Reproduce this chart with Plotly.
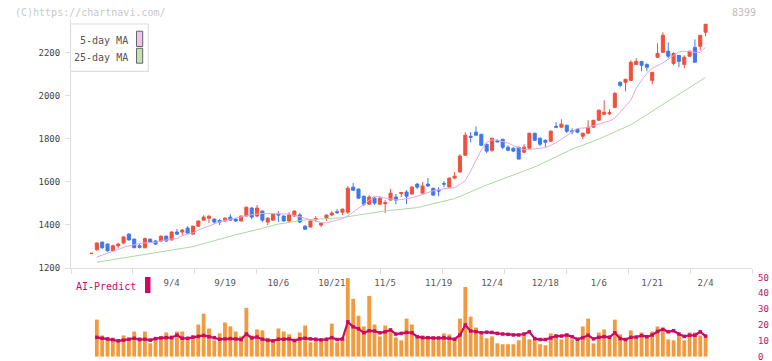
import plotly.graph_objects as go

# ---------------- data ----------------
candle_idx = list(range(116))
open_ = [1267,1285,1320,1311,1280,1303,1316,1357,1334,1303,
 1294,1334,1325,1325,1348,1330,1367,1367,1385,1357,
 1394,1422,1431,1427,1420,1418,1436,1427,1418,1441,
 1478,1441,1464,1413,1422,1450,1441,1418,1441,1446,
 1394,1390,1425,1399,1431,1446,1461,1459,1459,1575,
 1566,1533,1496,1524,1496,1498,1515,1529,1545,1552,
 1543,1589,1547,1589,1570,1561,1592,1575,1617,1645,
 1723,1811,1830,1820,1774,1746,1790,1797,1760,1755,
 1760,1737,1755,1825,1802,1792,1788,1857,1853,1862,
 1836,1843,1811,1825,1853,1885,1913,1915,1945,2061,
 2061,2070,2144,2158,2144,2070,2177,2200,2205,2149,
 2186,2144,2182,2223,2228,2293]
high = [1269,1318,1322,1313,1308,1317,1346,1362,1336,1311,
 1341,1336,1330,1352,1350,1369,1381,1381,1394,1396,
 1420,1445,1445,1429,1427,1436,1450,1431,1443,1484,
 1482,1492,1466,1436,1452,1464,1443,1459,1466,1455,
 1399,1420,1441,1408,1446,1464,1473,1475,1580,1594,
 1568,1535,1538,1529,1533,1515,1566,1543,1552,1561,
 1580,1594,1598,1617,1572,1575,1603,1619,1645,1728,
 1830,1830,1857,1822,1776,1802,1797,1799,1769,1760,
 1762,1774,1827,1827,1804,1797,1839,1876,1890,1864,
 1848,1848,1827,1885,1887,1934,1978,1936,2015,2066,
 2077,2163,2172,2160,2149,2109,2242,2293,2246,2200,
 2188,2186,2207,2260,2279,2332]
low = [1266,1280,1288,1275,1277,1291,1311,1328,1292,1290,
 1292,1316,1306,1320,1320,1328,1353,1348,1357,1355,
 1392,1420,1408,1404,1399,1416,1420,1413,1416,1439,
 1427,1436,1413,1399,1420,1413,1416,1413,1439,1408,
 1376,1388,1413,1390,1418,1441,1450,1445,1450,1557,
 1522,1487,1494,1492,1492,1455,1513,1496,1529,1496,
 1541,1566,1545,1578,1536,1533,1575,1573,1612,1643,
 1721,1783,1814,1767,1732,1737,1783,1751,1742,1737,
 1705,1732,1753,1788,1765,1760,1786,1848,1851,1825,
 1820,1825,1797,1822,1851,1883,1909,1909,1941,2038,
 2019,2068,2142,2112,2112,2052,2175,2198,2172,2140,
 2131,2126,2180,2154,2209,2274]
close = [1268,1316,1294,1280,1303,1311,1344,1330,1294,1296,
 1336,1320,1311,1347,1325,1367,1357,1376,1362,1394,
 1418,1436,1440,1413,1413,1431,1422,1418,1441,1482,
 1436,1478,1422,1431,1450,1446,1418,1446,1464,1413,
 1380,1418,1429,1408,1446,1455,1457,1473,1570,1561,
 1524,1496,1529,1501,1524,1503,1547,1515,1550,1533,
 1575,1575,1580,1580,1538,1557,1589,1617,1626,1719,
 1816,1806,1816,1769,1742,1802,1785,1760,1746,1742,
 1705,1760,1825,1792,1774,1783,1834,1853,1867,1834,
 1832,1830,1825,1853,1885,1932,1922,1920,2010,2047,
 2075,2154,2158,2140,2131,2107,2195,2279,2182,2195,
 2158,2177,2205,2154,2279,2330]

ma5 = [None,
 1251,1259,1267,1276,1286,1296,1303,1310,1314,1316,
 1318,1319,1325,1331,1334,1337,1350,1357,1362,1376,
 1386,1395,1403,1414,1421,1427,1431,1436,1442,1447,
 1451,1453,1453,1453,1453,1452,1450,1444,1438,1432,
 1426,1418,1411,1409,1415,1422,1429,1441,1458,1476,
 1495,1514,1533,1529,1524,1519,1516,1517,1520,1526,
 1533,1542,1550,1558,1562,1568,1570,1572,1588,1605,
 1650,1702,1747,1783,1794,1793,1787,1779,1768,1757,
 1749,1750,1752,1754,1758,1769,1781,1797,1816,1832,
 1847,1850,1851,1860,1868,1875,1882,1895,1925,1950,
 1978,2033,2070,2102,2126,2139,2151,2168,2185,2202,
 2205,2205,2200,2200,2223]
ma25 = [None,
 1227,1231,1235,1239,1243,1247,1251,1254,1258,1261,
 1265,1268,1272,1276,1281,1285,1290,1294,1299,1306,
 1313,1321,1328,1336,1343,1349,1354,1360,1365,1371,
 1378,1384,1391,1398,1404,1407,1412,1416,1420,1423,
 1424,1425,1427,1428,1430,1431,1433,1438,1442,1447,
 1451,1456,1460,1463,1465,1467,1469,1472,1474,1476,
 1480,1486,1492,1498,1504,1510,1516,1522,1532,1543,
 1553,1563,1575,1585,1594,1603,1613,1622,1632,1641,
 1650,1660,1669,1680,1692,1703,1715,1727,1739,1751,
 1760,1769,1779,1789,1798,1809,1820,1831,1842,1853,
 1864,1880,1896,1912,1928,1944,1959,1974,1990,2006,
 2021,2037,2053,2069,2084]

bar_idx = list(range(1, 116))
bar_vals = [23.4, 13.4, 12.2, 10.9, 9.7, 13.4, 10.9, 15.9, 12.2, 15.9,
 8.4, 12.2, 12.8, 15.3, 13.4, 15.9, 15.9, 10.9, 12.8, 20.3,
 27.2, 17.8, 10.3, 14.7, 21.6, 19.2, 15.9, 12.8, 30.9, 13.4,
 17.2, 16.6, 11.6, 10.3, 17.8, 15.9, 14.1, 10.3, 15.3, 19.7,
 9.1, 10.9, 10.3, 10.9, 20.9, 9.1, 10.9, 49.7, 36.6, 25.9,
 19.1, 38.4, 20.3, 12.8,
 19.7, 17.2, 12.2, 10.3, 24.1, 20.3, 12.2, 13.4, 12.2, 12.2,
 10.9, 14.7, 14.1, 10.9, 24.1, 44.1, 25.3, 18.4, 14.1, 11.6,
 12.8, 8.4, 7.8, 7.8, 7.8, 10.3, 13.4, 10.9, 10.9, 7.8,
 7.2, 14.7, 14.1, 10.9, 14.1, 10.9, 10.9, 19.1, 24.1, 8.4,
 15.3, 17.2, 13.4, 23.4, 14.1, 10.9, 16.6, 12.2, 15.3, 13.4,
 15.9, 19.1, 16.6, 10.9, 10.3, 13.4, 10.3, 15.3, 15.3, 13.4,
 13.4]
ai_vals = [12.2, 11.6, 11.2, 10.8, 10.0, 10.4, 11.0, 11.6, 10.8, 11.0,
 10.4, 11.4, 11.8, 12.0, 12.0, 13.6, 11.6, 11.6, 12.4, 12.8,
 13.4, 12.6, 12.0, 11.0, 11.2, 11.4, 11.2, 10.8, 14.3, 11.8,
 12.4, 11.0, 10.4, 10.0, 11.0, 11.0, 11.2, 10.2, 11.2, 11.6,
 11.2, 11.0, 10.6, 11.0, 12.0, 10.8, 11.2, 22.0, 18.9, 17.6,
 15.1, 16.4, 16.2, 15.1,
 15.7, 16.9, 14.3, 14.7, 15.3, 15.1, 12.6, 12.0, 12.0, 11.8,
 11.8, 12.0, 11.6, 11.0, 13.7, 20.0, 16.2, 15.8, 15.1, 15.5,
 15.3, 14.7, 14.3, 14.1, 13.7, 13.7, 14.3, 15.7, 11.4, 10.8,
 10.8, 11.8, 13.0, 13.0, 13.7, 12.6, 11.0, 12.0, 13.5, 11.2,
 12.2, 12.6, 12.2, 15.1, 11.4, 10.8, 12.2, 12.4, 13.3, 12.6,
 13.7, 15.9, 17.3, 15.7, 16.4, 14.3, 12.8, 13.5, 13.5, 15.7,
 13.0]

date_idx = [15, 25, 35, 45, 55, 65, 75, 85, 95, 105, 115]
date_labels = ["9/4", "9/19", "10/6", "10/21", "11/5", "11/19",
               "12/4", "12/18", "1/6", "1/21", "2/4"]
price_ticks = [1200, 1400, 1600, 1800, 2000, 2200]
ai_ticks = [0, 10, 20, 30, 40, 50]

# ---------------- style ----------------
RED = "#f0503c"
BLUE = "#3f78ee"
ORANGE = "#f39a3e"
MAGENTA = "#cc0a66"
PINK = "#e4a8e4"
GREEN = "#abd8a0"
AXIS = "#dedede"
FONT = "DejaVu Sans Mono"

W, H = 772, 361
ML, MR, MT, MB = 71, 20, 20, 3
PW, PH = W - ML - MR, H - MT - MB


def px_x(x):
    return (x - ML) / PW


def px_y(y):
    return (H - MB - y) / PH


fig = go.Figure()

fig.add_trace(go.Scatter(x=candle_idx, y=ma25, mode="lines",
                         line=dict(color=GREEN, width=1), xaxis="x", yaxis="y",
                         hoverinfo="skip"))
fig.add_trace(go.Scatter(x=candle_idx, y=ma5, mode="lines",
                         line=dict(color=PINK, width=1), xaxis="x", yaxis="y",
                         hoverinfo="skip"))
fig.add_trace(go.Candlestick(
    x=candle_idx, open=open_, high=high, low=low, close=close,
    increasing=dict(line=dict(color=RED, width=1), fillcolor=RED),
    decreasing=dict(line=dict(color=BLUE, width=1), fillcolor=BLUE),
    whiskerwidth=0, xaxis="x", yaxis="y"))

fig.add_trace(go.Bar(x=bar_idx, y=bar_vals, marker=dict(color=ORANGE, line=dict(width=0)),
                     width=0.72, xaxis="x2", yaxis="y2"))
fig.add_trace(go.Scatter(x=bar_idx, y=ai_vals, mode="lines+markers",
                         line=dict(color=MAGENTA, width=2.2),
                         marker=dict(symbol="square", size=3.5, color=MAGENTA),
                         xaxis="x2", yaxis="y2"))

x_left = (ML - 91.5) / 5.34
x_right = (ML + PW - 91.5) / 5.34

# lower panel: 50 at y=277.7px, 0 at ~356.6px, panel bottom at 358px
y2_lo, y2_hi = -0.9, 50.5
unit2 = (358 - 277.7) / (50 - y2_lo)
y2_top_px = 277.7 - (y2_hi - 50) * unit2

fig.update_layout(
    width=W, height=H,
    margin=dict(l=ML, r=MR, t=MT, b=MB, autoexpand=False),
    paper_bgcolor="white", plot_bgcolor="white",
    showlegend=False, boxgap=0.18,
    font=dict(family=FONT, size=9, color="#444444"),
    xaxis=dict(domain=[0, 1], anchor="y", range=[x_left, x_right], automargin=False,
               showline=True, linecolor=AXIS, linewidth=1,
               ticks="outside", ticklen=5, tickcolor=AXIS,
               tick0=x_left, dtick=(x_right - x_left) / 11,
               showticklabels=False, showgrid=False, zeroline=False,
               rangeslider=dict(visible=False)),
    yaxis=dict(domain=[px_y(268), 1], anchor="x", range=[1200, 2350], automargin=False,
               tickvals=price_ticks, showline=True, linecolor=AXIS, linewidth=1,
               ticks="outside", ticklen=5, tickcolor=AXIS,
               showgrid=False, zeroline=False, ticklabelstandoff=3,
               tickfont=dict(family=FONT, size=9, color="#444444")),
    xaxis2=dict(domain=[0, 1], anchor="y2", matches="x", side="top", automargin=False,
                tickvals=date_idx, ticktext=date_labels, ticks="",
                ticklabelposition="inside", showline=False, showgrid=False,
                zeroline=False,
                tickfont=dict(family=FONT, size=9, color="#555555")),
    yaxis2=dict(domain=[0, px_y(y2_top_px)], anchor="x2", range=[y2_lo, y2_hi],
                side="right", automargin=False, showticklabels=False,
                tickvals=ai_ticks, showline=False, showgrid=False, zeroline=False,
                ticks=""),
)

shapes = [
    # legend box
    dict(type="rect", xref="paper", yref="paper",
         x0=px_x(70.5), x1=px_x(148.3), y0=px_y(71.3), y1=px_y(24),
         line=dict(color=AXIS, width=1.2), fillcolor="white", layer="above"),
    dict(type="rect", xref="paper", yref="paper",
         x0=px_x(136.5), x1=px_x(142.7), y0=px_y(46.5), y1=px_y(31.2),
         line=dict(color="#666666", width=1), fillcolor="#f0c4f0", layer="above"),
    dict(type="rect", xref="paper", yref="paper",
         x0=px_x(136.5), x1=px_x(142.7), y0=px_y(63.2), y1=px_y(48.3),
         line=dict(color="#666666", width=1), fillcolor="#c2e2b4", layer="above"),
    # AI-Predict swatch
    dict(type="rect", xref="paper", yref="paper",
         x0=px_x(145), x1=px_x(150.5), y0=px_y(293), y1=px_y(277),
         line=dict(width=0), fillcolor=MAGENTA, layer="above"),
]

annotations = [
    dict(text="(C)https://chartnavi.com/", xref="paper", yref="paper",
         x=px_x(13), y=px_y(12), xanchor="left", yanchor="middle", showarrow=False,
         font=dict(family=FONT, size=10, color="#c8c8c8")),
    dict(text="8399", xref="paper", yref="paper",
         x=px_x(758), y=px_y(12), xanchor="right", yanchor="middle", showarrow=False,
         font=dict(family=FONT, size=10, color="#bdbdbd")),
    dict(text="5-day MA", xref="paper", yref="paper",
         x=px_x(130), y=px_y(40.5), xanchor="right", yanchor="middle", showarrow=False,
         font=dict(family=FONT, size=10, color="#555555")),
    dict(text="25-day MA", xref="paper", yref="paper",
         x=px_x(130), y=px_y(57.3), xanchor="right", yanchor="middle", showarrow=False,
         font=dict(family=FONT, size=10, color="#555555")),
    dict(text="AI-Predict", xref="paper", yref="paper",
         x=px_x(74), y=px_y(286), xanchor="left", yanchor="middle", showarrow=False,
         font=dict(family=FONT, size=10, color=MAGENTA)),
]
# right-hand AI-Predict scale labels, placed through the y2 axis scale
for v in ai_ticks:
    annotations.append(dict(text=str(v), xref="paper", yref="y2",
                            x=px_x(756), y=v, xanchor="left", yanchor="middle",
                            showarrow=False,
                            font=dict(family=FONT, size=9, color=MAGENTA)))

fig.update_layout(shapes=shapes, annotations=annotations)

fig.write_html("out.html",
               config={"displayModeBar": False},
               post_script="document.body.style.margin='0px';"
                           "document.body.style.overflow='hidden';")
